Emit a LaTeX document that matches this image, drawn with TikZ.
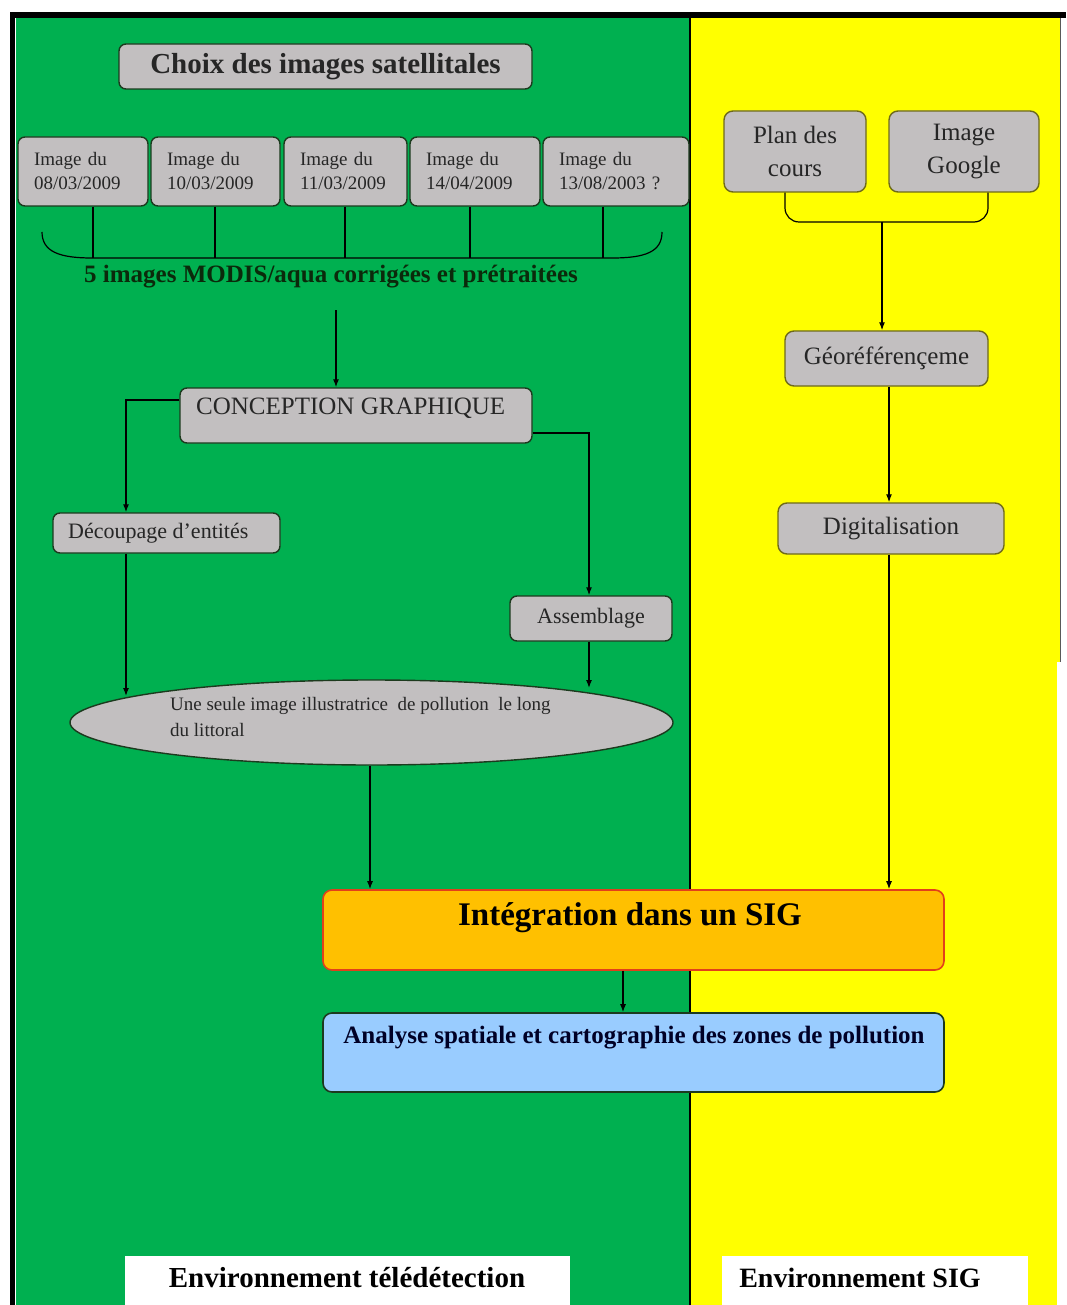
\documentclass[tikz,border=0pt]{standalone}
\usepackage{fontspec}
\setmainfont{Liberation Serif}
\usetikzlibrary{arrows.meta,shapes.geometric}
\definecolor{bggreen}{HTML}{00B050}
\definecolor{bgyellow}{HTML}{FFFF00}
\definecolor{boxgray}{HTML}{C2BFC0}
\definecolor{edgegreen}{HTML}{1C3A1E}
\definecolor{edgeolive}{HTML}{6E6A1A}
\definecolor{orangefill}{HTML}{FFC000}
\definecolor{orangeedge}{HTML}{E2401A}
\definecolor{bluefill}{HTML}{99CCFF}
\definecolor{txtgray}{HTML}{262626}
\definecolor{darkgreentxt}{HTML}{0B2A0B}
\newcommand{\fs}[2]{\fontsize{#1}{#2}\selectfont}
\begin{document}
\begin{tikzpicture}[x=1pt,y=-1pt,
  gbox/.style={draw=edgegreen, fill=boxgray, line width=1.4pt, rounded corners=7pt, inner sep=0pt, text=txtgray},
  ybox/.style={draw=edgeolive, fill=boxgray, line width=1.4pt, rounded corners=9pt, inner sep=0pt, text=txtgray, font=\fs{25}{33}, align=center},
  imgbox/.style={gbox, minimum width=#1, text width=#1-32pt, minimum height=69pt, font=\fs{19}{24}, align=left},
  conn/.style={line width=1.2pt, black},
  arr/.style={conn, -{Latex[length=8pt,width=6pt]}},
  envlabel/.style={fill=white, inner sep=0pt, font=\bfseries\fs{28}{30}, text=black}
]
\useasboundingbox (0,0) rectangle (1066,1305);
% background
\fill[white] (0,0) rectangle (1066,1305);
\fill[bggreen] (16,18) rectangle (690,1305);
\fill[bgyellow] (690,18) rectangle (1060,662);
\fill[bgyellow] (690,662) rectangle (1057,1305);
\draw[gray!70!black, line width=1pt] (1060,18) -- (1060,662);
\fill[black] (10,12) rectangle (1066,18);
\fill[black] (10,12) rectangle (15,1305);
\draw[black, line width=2pt] (690,18) -- (690,1305);

% left column
\node[gbox, minimum width=413pt, minimum height=45pt, font=\bfseries\fs{29}{30}] (choix) at (325.5,66.5) {Choix des images satellitales};

\node[imgbox=130pt] (img1) at (83,171.5) {Image du\\08/03/2009};
\node[imgbox=129pt] (img2) at (215.5,171.5) {Image du\\10/03/2009};
\node[imgbox=123pt] (img3) at (345.5,171.5) {Image du\\11/03/2009};
\node[imgbox=130pt] (img4) at (475,171.5) {Image du\\14/04/2009};
\node[imgbox=146pt] (img5) at (616,171.5) {Image du\\13/08/2003 ?};

\draw[conn] (42,232) .. controls (42,252) and (60,258) .. (92,258) -- (612,258) .. controls (645,258) and (662,252) .. (662,232);
\foreach \n/\x in {img1/93, img2/215, img3/345, img4/470, img5/603}
  \draw[conn] (\n.south -| \x,0) -- (\x,258);

\node[font=\bfseries\fs{25}{27}, text=darkgreentxt, inner sep=0pt] (modis) at (331,277) {5 images MODIS/aqua corrigées et prétraitées};
\coordinate (modisout) at (336,310);

\node[gbox, minimum width=352pt, minimum height=55pt] (concept) at (356,415.5) {};
\node[anchor=west, font=\fs{25}{27}, text=txtgray, inner sep=0pt] (concepttxt) at (196,408) {CONCEPTION GRAPHIQUE};

\node[gbox, minimum width=227pt, minimum height=40pt] (decoup) at (166.5,533) {};
\node[anchor=west, font=\fs{22}{24}, text=txtgray, inner sep=0pt] (decouptxt) at (68,533) {Découpage d’entités};
\node[gbox, minimum width=162pt, minimum height=45pt, font=\fs{22}{24}] (assemb) at (591,618.5) {Assemblage};

\node[ellipse, draw=edgegreen, fill=boxgray, line width=1.4pt, minimum width=603pt, minimum height=85pt, inner sep=0pt] (ell) at (371.5,722.5) {};
\node[anchor=north west, align=left, font=\fs{19}{26}, text=txtgray, inner sep=0pt] (elltxt) at (170,697) {Une seule image illustratrice \ de pollution \ le long\\du littoral};
\coordinate (ellL) at (126,696);
\coordinate (ellR) at (589,688);

\node[draw=orangeedge, fill=orangefill, line width=1.6pt, rounded corners=9pt, minimum width=621pt, minimum height=80pt, inner sep=0pt] (integ) at (633.5,930) {};
\node[font=\bfseries\fs{33}{35}, text=black, inner sep=0pt] (integtxt) at (630,918) {Intégration dans un SIG};

\node[draw=edgegreen, fill=bluefill, line width=1.6pt, rounded corners=9pt, minimum width=621pt, minimum height=79pt, inner sep=0pt] (analyse) at (633.5,1052.5) {};
\node[font=\bfseries\fs{25}{27}, text=black!85!blue, inner sep=0pt] (analysetxt) at (634,1038) {Analyse spatiale et cartographie des zones de pollution};

% right column
\node[ybox, minimum width=142pt, minimum height=81pt] (plan) at (795,151.5) {Plan des\\cours};
\node[ybox, minimum width=150pt, minimum height=81pt] (google) at (964,151.5) {Image\\Google};
\draw[conn, rounded corners=14pt] (plan.south -| 785,0) -- (785,222) -- (988,222) -- (google.south -| 988,0);
\coordinate (rbrace) at (882,222);
\node[ybox, minimum width=203pt, minimum height=55pt] (geo) at (886.5,358.5) {\raisebox{4pt}{Géoréférençeme}};
\node[ybox, minimum width=226pt, minimum height=51pt] (digit) at (891,528.5) {\raisebox{4pt}{Digitalisation}};

% bottom labels
\node[envlabel, minimum width=445pt, minimum height=49pt, anchor=north west] (envtele) at (125,1256) {};
\node[font=\bfseries\fs{29}{31}, inner sep=0pt] (envteletxt) at (347,1278) {Environnement télédétection};
\node[envlabel, minimum width=306pt, minimum height=49pt, anchor=north west] (envsig) at (722,1256) {};
\node[font=\bfseries\fs{28}{30}, inner sep=0pt] (envsigtxt) at (860,1278) {Environnement SIG};

% connectors
\draw[arr] (modisout) -- (concept.north -| modisout);
\draw[arr] (concept.west |- 0,400) -- (126,400) -- (decoup.north -| 126,0);
\draw[arr] (concept.east |- 0,433) -- (589,433) -- (assemb.north -| 589,0);
\draw[arr] (decoup.south -| ellL) -- (ellL);
\draw[arr] (assemb.south -| ellR) -- (ellR);
\draw[arr] (ell.south -| 370,0) -- (integ.north -| 370,0);
\draw[arr] (integ.south -| 623,0) -- (analyse.north -| 623,0);
\draw[arr] (rbrace) -- (geo.north -| rbrace);
\draw[arr] (geo.south -| 889,0) -- (digit.north -| 889,0);
\draw[arr] (digit.south -| 889,0) -- (integ.north -| 889,0);
\end{tikzpicture}
\end{document}
